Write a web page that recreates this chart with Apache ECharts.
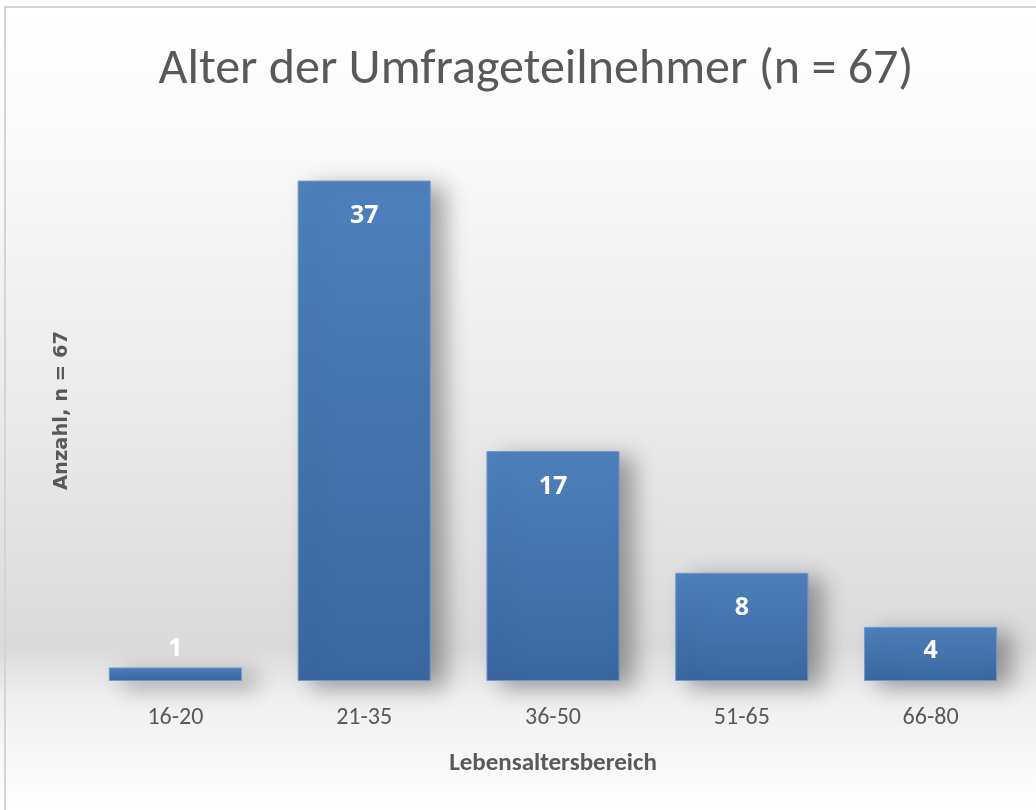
<!DOCTYPE html>
<html>
<head>
<meta charset="utf-8">
<script src="https://cdn.jsdelivr.net/npm/echarts@6/dist/echarts.min.js"></script>
<style>
html, body { margin: 0; padding: 0; background: #fff; }
#main { width: 1036px; height: 810px; }
</style>
</head>
<body>
<div id="main"></div>
<script>
// Daten
var categories = ['16-20', '21-35', '36-50', '51-65', '66-80'];
var counts = [1, 37, 17, 8, 4];

var myChart = echarts.init(document.getElementById('main'));

// Beschriftung: kleine Balken bekommen die Zahl oberhalb / enger
var barData = counts.map(function (v) {
    var item = { value: v };
    if (v < 2) {
        item.label = { position: 'top', distance: 6 };
    } else if (v < 6) {
        item.label = { position: 'insideTop', distance: 11 };
    }
    return item;
});

myChart.setOption({
    backgroundColor: {
        type: 'linear', x: 0, y: 0, x2: 0, y2: 1,
        colorStops: [
            { offset: 0, color: '#ffffff' },
            { offset: 0.15, color: '#fbfbfb' },
            { offset: 0.5, color: '#ebebeb' },
            { offset: 0.8, color: '#dadada' },
            { offset: 0.86, color: '#efefef' },
            { offset: 1, color: '#ffffff' }
        ]
    },
    title: {
        text: 'Alter der Umfrageteilnehmer (n = 67)',
        left: 531,
        top: 40,
        textAlign: 'center',
        textStyle: {
            fontFamily: 'Carlito, Lato, sans-serif',
            fontWeight: 'normal',
            fontSize: 50,
            color: '#595959'
        }
    },
    graphic: [{
        type: 'polyline',
        shape: { points: [[5, 810], [5, 7], [1036, 7]] },
        style: { stroke: '#d4d4d4', lineWidth: 2, fill: null }
    }],
    grid: { left: 81, right: 11, top: 140, bottom: 129 },
    xAxis: {
        type: 'category',
        data: categories,
        name: 'Lebensaltersbereich',
        nameLocation: 'middle',
        nameGap: 70,
        nameTextStyle: { fontFamily: 'Carlito, Lato, sans-serif', fontWeight: 'bold', fontSize: 25, color: '#595959' },
        axisLine: { show: false },
        axisTick: { show: false },
        axisLabel: { margin: 25, fontFamily: 'Carlito, Lato, sans-serif', fontSize: 24, color: '#595959' }
    },
    yAxis: {
        type: 'value',
        min: 0,
        max: 40,
        name: 'Anzahl, n = 67',
        nameLocation: 'middle',
        nameGap: 9,
        nameRotate: 90,
        nameTextStyle: { fontFamily: 'DejaVu Sans, sans-serif', fontWeight: 'bold', fontSize: 19.5, color: '#595959' },
        axisLine: { show: false },
        axisTick: { show: false },
        axisLabel: { show: false },
        splitLine: { show: false }
    },
    series: [{
        type: 'bar',
        data: barData,
        barCategoryGap: '29.5%',
        itemStyle: {
            color: {
                type: 'linear', x: 0, y: 0, x2: 0, y2: 1,
                colorStops: [
                    { offset: 0, color: '#4e80bd' },
                    { offset: 1, color: '#3a679f' }
                ]
            },
            borderColor: '#6f98cc',
            borderWidth: 1,
            shadowColor: 'rgba(0,0,0,0.35)',
            shadowBlur: 22,
            shadowOffsetX: 14,
            shadowOffsetY: 6
        },
        label: {
            show: true,
            position: 'insideTop',
            distance: 23,
            color: '#ffffff',
            fontFamily: 'Open Sans, sans-serif',
            fontWeight: 'bold',
            fontSize: 25
        }
    }]
});
</script>
</body>
</html>
